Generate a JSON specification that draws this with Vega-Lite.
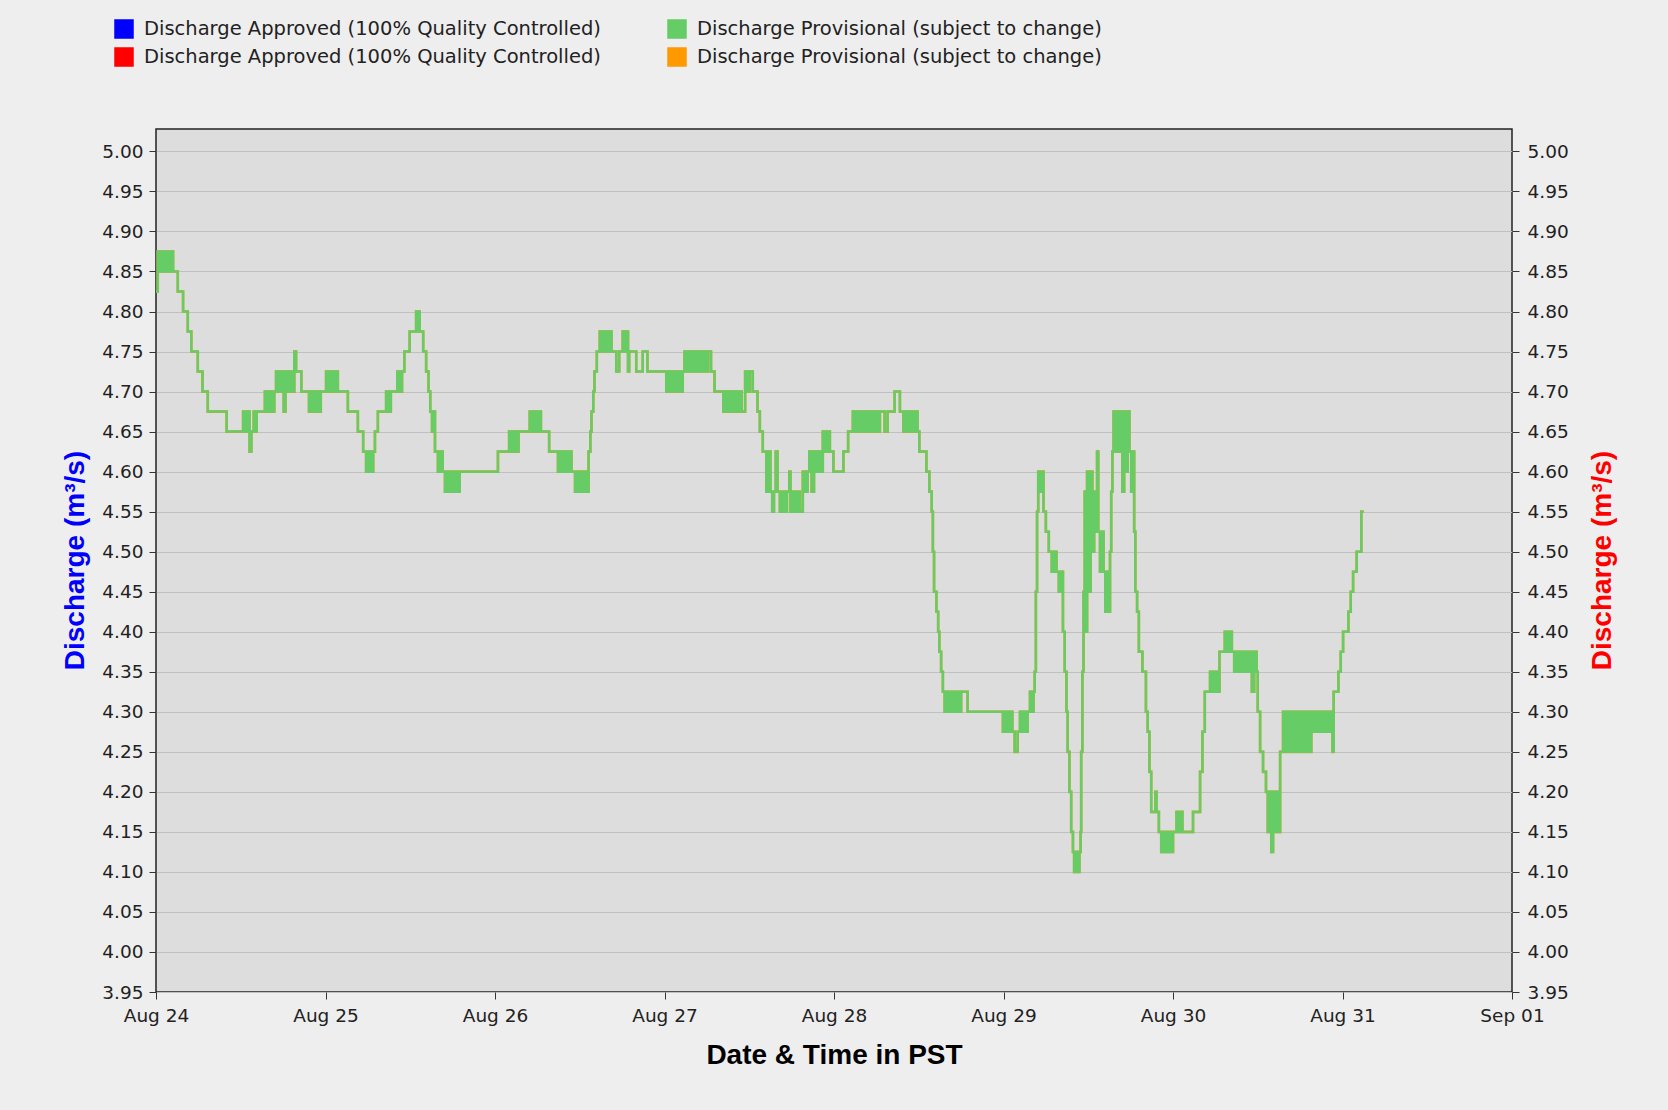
{
  "$schema": "https://vega.github.io/schema/vega-lite/v6.json",
  "width": 1356,
  "height": 863,
  "autosize": {"type": "none"},
  "padding": {"left": 156, "top": 129, "right": 156, "bottom": 118},
  "background": "#eeeeee",
  "config": {
    "view": {"fill": "#dddddd", "stroke": "#222222", "strokeWidth": 1.5},
    "axis": {"domain": false, "tickColor": "#333333", "tickWidth": 1, "labelFont": "DejaVu Sans", "labelFontSize": 18.5, "labelColor": "#222222"}
  },
  "data": {"values": [
{"t":"2023-08-24T00:00","v":4.825},{"t":"2023-08-24T00:15","v":4.875},{"t":"2023-08-24T00:35","v":4.85},{"t":"2023-08-24T00:55","v":4.875},{"t":"2023-08-24T01:15","v":4.85},{"t":"2023-08-24T01:35","v":4.875},{"t":"2023-08-24T01:55","v":4.85},{"t":"2023-08-24T02:10","v":4.875},{"t":"2023-08-24T02:25","v":4.85},{"t":"2023-08-24T03:05","v":4.825},{"t":"2023-08-24T03:50","v":4.80},{"t":"2023-08-24T04:30","v":4.775},{"t":"2023-08-24T05:00","v":4.75},{"t":"2023-08-24T05:55","v":4.725},{"t":"2023-08-24T06:35","v":4.70},{"t":"2023-08-24T07:20","v":4.675},{"t":"2023-08-24T10:00","v":4.65},{"t":"2023-08-24T12:20","v":4.675},{"t":"2023-08-24T12:40","v":4.65},{"t":"2023-08-24T13:00","v":4.675},{"t":"2023-08-24T13:15","v":4.625},{"t":"2023-08-24T13:30","v":4.65},{"t":"2023-08-24T13:50","v":4.675},{"t":"2023-08-24T14:00","v":4.65},{"t":"2023-08-24T14:15","v":4.675},{"t":"2023-08-24T15:25","v":4.70},{"t":"2023-08-24T15:45","v":4.675},{"t":"2023-08-24T16:05","v":4.70},{"t":"2023-08-24T16:25","v":4.675},{"t":"2023-08-24T16:45","v":4.70},{"t":"2023-08-24T17:00","v":4.725},{"t":"2023-08-24T17:20","v":4.70},{"t":"2023-08-24T17:40","v":4.725},{"t":"2023-08-24T18:00","v":4.70},{"t":"2023-08-24T18:05","v":4.675},{"t":"2023-08-24T18:20","v":4.725},{"t":"2023-08-24T18:40","v":4.70},{"t":"2023-08-24T19:00","v":4.725},{"t":"2023-08-24T19:20","v":4.70},{"t":"2023-08-24T19:35","v":4.75},{"t":"2023-08-24T19:50","v":4.725},{"t":"2023-08-24T20:35","v":4.70},{"t":"2023-08-24T21:40","v":4.675},{"t":"2023-08-24T22:00","v":4.70},{"t":"2023-08-24T22:20","v":4.675},{"t":"2023-08-24T22:40","v":4.70},{"t":"2023-08-24T23:00","v":4.675},{"t":"2023-08-24T23:20","v":4.70},
{"t":"2023-08-25T00:05","v":4.725},{"t":"2023-08-25T00:25","v":4.70},{"t":"2023-08-25T00:45","v":4.725},{"t":"2023-08-25T01:05","v":4.70},{"t":"2023-08-25T01:25","v":4.725},{"t":"2023-08-25T01:45","v":4.70},{"t":"2023-08-25T03:10","v":4.675},{"t":"2023-08-25T04:35","v":4.65},{"t":"2023-08-25T05:20","v":4.625},{"t":"2023-08-25T05:45","v":4.60},{"t":"2023-08-25T06:05","v":4.625},{"t":"2023-08-25T06:25","v":4.60},{"t":"2023-08-25T06:45","v":4.625},{"t":"2023-08-25T07:00","v":4.65},{"t":"2023-08-25T07:25","v":4.675},{"t":"2023-08-25T08:35","v":4.70},{"t":"2023-08-25T08:55","v":4.675},{"t":"2023-08-25T09:15","v":4.70},{"t":"2023-08-25T10:10","v":4.725},{"t":"2023-08-25T10:30","v":4.70},{"t":"2023-08-25T10:50","v":4.725},{"t":"2023-08-25T11:10","v":4.75},{"t":"2023-08-25T11:55","v":4.775},{"t":"2023-08-25T12:50","v":4.80},{"t":"2023-08-25T13:05","v":4.775},{"t":"2023-08-25T13:15","v":4.80},{"t":"2023-08-25T13:20","v":4.775},{"t":"2023-08-25T13:50","v":4.75},{"t":"2023-08-25T14:15","v":4.725},{"t":"2023-08-25T14:35","v":4.70},{"t":"2023-08-25T14:50","v":4.675},{"t":"2023-08-25T15:05","v":4.65},{"t":"2023-08-25T15:20","v":4.675},{"t":"2023-08-25T15:30","v":4.625},{"t":"2023-08-25T15:55","v":4.60},{"t":"2023-08-25T16:15","v":4.625},{"t":"2023-08-25T16:35","v":4.60},{"t":"2023-08-25T16:55","v":4.575},{"t":"2023-08-25T17:15","v":4.60},{"t":"2023-08-25T17:35","v":4.575},{"t":"2023-08-25T17:55","v":4.60},{"t":"2023-08-25T18:15","v":4.575},{"t":"2023-08-25T18:35","v":4.60},{"t":"2023-08-25T18:50","v":4.575},{"t":"2023-08-25T19:00","v":4.60},
{"t":"2023-08-26T00:25","v":4.625},{"t":"2023-08-26T02:00","v":4.65},{"t":"2023-08-26T02:20","v":4.625},{"t":"2023-08-26T02:40","v":4.65},{"t":"2023-08-26T03:00","v":4.625},{"t":"2023-08-26T03:20","v":4.65},{"t":"2023-08-26T04:55","v":4.675},{"t":"2023-08-26T05:15","v":4.65},{"t":"2023-08-26T05:35","v":4.675},{"t":"2023-08-26T05:55","v":4.65},{"t":"2023-08-26T06:15","v":4.675},{"t":"2023-08-26T06:30","v":4.65},{"t":"2023-08-26T07:40","v":4.625},{"t":"2023-08-26T08:55","v":4.60},{"t":"2023-08-26T09:15","v":4.625},{"t":"2023-08-26T09:35","v":4.60},{"t":"2023-08-26T09:55","v":4.625},{"t":"2023-08-26T10:15","v":4.60},{"t":"2023-08-26T10:35","v":4.625},{"t":"2023-08-26T10:50","v":4.60},{"t":"2023-08-26T11:20","v":4.575},{"t":"2023-08-26T11:40","v":4.60},{"t":"2023-08-26T12:00","v":4.575},{"t":"2023-08-26T12:20","v":4.60},{"t":"2023-08-26T12:40","v":4.575},{"t":"2023-08-26T13:00","v":4.60},{"t":"2023-08-26T13:10","v":4.575},{"t":"2023-08-26T13:15","v":4.625},{"t":"2023-08-26T13:30","v":4.65},{"t":"2023-08-26T13:40","v":4.675},{"t":"2023-08-26T13:55","v":4.70},{"t":"2023-08-26T14:05","v":4.725},{"t":"2023-08-26T14:25","v":4.75},{"t":"2023-08-26T14:50","v":4.775},{"t":"2023-08-26T15:10","v":4.75},{"t":"2023-08-26T15:30","v":4.775},{"t":"2023-08-26T15:50","v":4.75},{"t":"2023-08-26T16:10","v":4.775},{"t":"2023-08-26T16:30","v":4.75},{"t":"2023-08-26T17:10","v":4.725},{"t":"2023-08-26T17:35","v":4.75},{"t":"2023-08-26T18:05","v":4.775},{"t":"2023-08-26T18:25","v":4.75},{"t":"2023-08-26T18:35","v":4.775},{"t":"2023-08-26T18:50","v":4.725},{"t":"2023-08-26T19:00","v":4.75},{"t":"2023-08-26T20:00","v":4.725},{"t":"2023-08-26T20:55","v":4.75},{"t":"2023-08-26T21:35","v":4.725},
{"t":"2023-08-27T00:15","v":4.70},{"t":"2023-08-27T00:35","v":4.725},{"t":"2023-08-27T00:55","v":4.70},{"t":"2023-08-27T01:15","v":4.725},{"t":"2023-08-27T01:35","v":4.70},{"t":"2023-08-27T01:55","v":4.725},{"t":"2023-08-27T02:15","v":4.70},{"t":"2023-08-27T02:35","v":4.725},{"t":"2023-08-27T02:50","v":4.75},{"t":"2023-08-27T03:10","v":4.725},{"t":"2023-08-27T03:30","v":4.75},{"t":"2023-08-27T03:50","v":4.725},{"t":"2023-08-27T04:10","v":4.75},{"t":"2023-08-27T04:30","v":4.725},{"t":"2023-08-27T04:50","v":4.75},{"t":"2023-08-27T05:10","v":4.725},{"t":"2023-08-27T05:30","v":4.75},{"t":"2023-08-27T05:50","v":4.725},{"t":"2023-08-27T06:10","v":4.75},{"t":"2023-08-27T06:35","v":4.725},{"t":"2023-08-27T07:05","v":4.70},{"t":"2023-08-27T08:20","v":4.675},{"t":"2023-08-27T08:40","v":4.70},{"t":"2023-08-27T09:00","v":4.675},{"t":"2023-08-27T09:20","v":4.70},{"t":"2023-08-27T09:40","v":4.675},{"t":"2023-08-27T10:00","v":4.70},{"t":"2023-08-27T10:20","v":4.675},{"t":"2023-08-27T10:40","v":4.70},{"t":"2023-08-27T10:55","v":4.675},{"t":"2023-08-27T11:25","v":4.725},{"t":"2023-08-27T11:45","v":4.70},{"t":"2023-08-27T12:05","v":4.725},{"t":"2023-08-27T12:30","v":4.70},{"t":"2023-08-27T13:10","v":4.675},{"t":"2023-08-27T13:30","v":4.65},{"t":"2023-08-27T13:55","v":4.625},{"t":"2023-08-27T14:25","v":4.575},{"t":"2023-08-27T14:40","v":4.625},{"t":"2023-08-27T15:00","v":4.575},{"t":"2023-08-27T15:15","v":4.55},{"t":"2023-08-27T15:30","v":4.575},{"t":"2023-08-27T15:45","v":4.625},{"t":"2023-08-27T16:00","v":4.575},{"t":"2023-08-27T16:20","v":4.55},{"t":"2023-08-27T16:40","v":4.575},{"t":"2023-08-27T17:00","v":4.55},{"t":"2023-08-27T17:20","v":4.575},{"t":"2023-08-27T17:40","v":4.60},{"t":"2023-08-27T17:50","v":4.55},{"t":"2023-08-27T18:10","v":4.575},{"t":"2023-08-27T18:30","v":4.55},{"t":"2023-08-27T18:50","v":4.575},{"t":"2023-08-27T19:10","v":4.55},{"t":"2023-08-27T19:35","v":4.60},{"t":"2023-08-27T19:55","v":4.575},{"t":"2023-08-27T20:15","v":4.60},{"t":"2023-08-27T20:30","v":4.625},{"t":"2023-08-27T20:50","v":4.575},{"t":"2023-08-27T21:10","v":4.625},{"t":"2023-08-27T21:30","v":4.60},{"t":"2023-08-27T21:50","v":4.625},{"t":"2023-08-27T22:10","v":4.60},{"t":"2023-08-27T22:25","v":4.65},{"t":"2023-08-27T22:45","v":4.625},{"t":"2023-08-27T23:05","v":4.65},{"t":"2023-08-27T23:25","v":4.625},{"t":"2023-08-27T23:55","v":4.60},
{"t":"2023-08-28T01:20","v":4.625},{"t":"2023-08-28T02:00","v":4.65},{"t":"2023-08-28T02:40","v":4.675},{"t":"2023-08-28T03:00","v":4.65},{"t":"2023-08-28T03:20","v":4.675},{"t":"2023-08-28T03:40","v":4.65},{"t":"2023-08-28T04:00","v":4.675},{"t":"2023-08-28T04:20","v":4.65},{"t":"2023-08-28T04:40","v":4.675},{"t":"2023-08-28T05:00","v":4.65},{"t":"2023-08-28T05:20","v":4.675},{"t":"2023-08-28T05:40","v":4.65},{"t":"2023-08-28T06:00","v":4.675},{"t":"2023-08-28T06:20","v":4.65},{"t":"2023-08-28T06:30","v":4.675},{"t":"2023-08-28T07:10","v":4.65},{"t":"2023-08-28T07:35","v":4.675},{"t":"2023-08-28T08:35","v":4.70},{"t":"2023-08-28T09:20","v":4.675},{"t":"2023-08-28T09:50","v":4.65},{"t":"2023-08-28T10:10","v":4.675},{"t":"2023-08-28T10:30","v":4.65},{"t":"2023-08-28T10:50","v":4.675},{"t":"2023-08-28T11:10","v":4.65},{"t":"2023-08-28T11:30","v":4.675},{"t":"2023-08-28T11:50","v":4.65},{"t":"2023-08-28T12:05","v":4.625},{"t":"2023-08-28T13:05","v":4.60},{"t":"2023-08-28T13:30","v":4.575},{"t":"2023-08-28T13:50","v":4.55},{"t":"2023-08-28T14:00","v":4.50},{"t":"2023-08-28T14:10","v":4.45},{"t":"2023-08-28T14:30","v":4.425},{"t":"2023-08-28T14:45","v":4.40},{"t":"2023-08-28T14:55","v":4.375},{"t":"2023-08-28T15:10","v":4.35},{"t":"2023-08-28T15:25","v":4.325},{"t":"2023-08-28T15:40","v":4.30},{"t":"2023-08-28T16:00","v":4.325},{"t":"2023-08-28T16:20","v":4.30},{"t":"2023-08-28T16:40","v":4.325},{"t":"2023-08-28T17:00","v":4.30},{"t":"2023-08-28T17:20","v":4.325},{"t":"2023-08-28T17:40","v":4.30},{"t":"2023-08-28T18:00","v":4.325},{"t":"2023-08-28T18:55","v":4.30},{"t":"2023-08-28T23:55","v":4.275},
{"t":"2023-08-29T00:15","v":4.30},{"t":"2023-08-29T00:35","v":4.275},{"t":"2023-08-29T00:55","v":4.30},{"t":"2023-08-29T01:15","v":4.275},{"t":"2023-08-29T01:35","v":4.25},{"t":"2023-08-29T02:00","v":4.275},{"t":"2023-08-29T02:20","v":4.30},{"t":"2023-08-29T02:40","v":4.275},{"t":"2023-08-29T03:00","v":4.30},{"t":"2023-08-29T03:15","v":4.275},{"t":"2023-08-29T03:25","v":4.30},{"t":"2023-08-29T03:45","v":4.325},{"t":"2023-08-29T04:00","v":4.30},{"t":"2023-08-29T04:15","v":4.325},{"t":"2023-08-29T04:25","v":4.35},{"t":"2023-08-29T04:35","v":4.45},{"t":"2023-08-29T04:45","v":4.55},{"t":"2023-08-29T04:55","v":4.60},{"t":"2023-08-29T05:10","v":4.575},{"t":"2023-08-29T05:25","v":4.60},{"t":"2023-08-29T05:40","v":4.55},{"t":"2023-08-29T06:00","v":4.525},{"t":"2023-08-29T06:25","v":4.50},{"t":"2023-08-29T06:50","v":4.475},{"t":"2023-08-29T07:10","v":4.50},{"t":"2023-08-29T07:30","v":4.475},{"t":"2023-08-29T07:50","v":4.45},{"t":"2023-08-29T08:10","v":4.475},{"t":"2023-08-29T08:25","v":4.40},{"t":"2023-08-29T08:40","v":4.35},{"t":"2023-08-29T08:55","v":4.30},{"t":"2023-08-29T09:05","v":4.25},{"t":"2023-08-29T09:20","v":4.20},{"t":"2023-08-29T09:35","v":4.15},{"t":"2023-08-29T09:50","v":4.125},{"t":"2023-08-29T10:00","v":4.10},{"t":"2023-08-29T10:15","v":4.125},{"t":"2023-08-29T10:30","v":4.10},{"t":"2023-08-29T10:45","v":4.125},{"t":"2023-08-29T10:55","v":4.15},{"t":"2023-08-29T11:00","v":4.25},{"t":"2023-08-29T11:10","v":4.35},{"t":"2023-08-29T11:20","v":4.45},{"t":"2023-08-29T11:30","v":4.575},{"t":"2023-08-29T11:40","v":4.40},{"t":"2023-08-29T11:50","v":4.60},{"t":"2023-08-29T12:05","v":4.45},{"t":"2023-08-29T12:20","v":4.60},{"t":"2023-08-29T12:35","v":4.50},{"t":"2023-08-29T12:50","v":4.575},{"t":"2023-08-29T13:05","v":4.525},{"t":"2023-08-29T13:15","v":4.625},{"t":"2023-08-29T13:25","v":4.525},{"t":"2023-08-29T13:40","v":4.475},{"t":"2023-08-29T13:55","v":4.525},{"t":"2023-08-29T14:10","v":4.475},{"t":"2023-08-29T14:25","v":4.425},{"t":"2023-08-29T14:40","v":4.475},{"t":"2023-08-29T14:55","v":4.425},{"t":"2023-08-29T15:05","v":4.50},{"t":"2023-08-29T15:15","v":4.575},{"t":"2023-08-29T15:25","v":4.625},{"t":"2023-08-29T15:35","v":4.675},{"t":"2023-08-29T15:50","v":4.625},{"t":"2023-08-29T16:05","v":4.675},{"t":"2023-08-29T16:20","v":4.625},{"t":"2023-08-29T16:35","v":4.675},{"t":"2023-08-29T16:50","v":4.575},{"t":"2023-08-29T17:05","v":4.675},{"t":"2023-08-29T17:20","v":4.60},{"t":"2023-08-29T17:35","v":4.675},{"t":"2023-08-29T17:50","v":4.625},{"t":"2023-08-29T18:05","v":4.575},{"t":"2023-08-29T18:20","v":4.625},{"t":"2023-08-29T18:30","v":4.525},{"t":"2023-08-29T18:40","v":4.45},{"t":"2023-08-29T18:55","v":4.425},{"t":"2023-08-29T19:10","v":4.375},{"t":"2023-08-29T19:40","v":4.35},{"t":"2023-08-29T20:10","v":4.30},{"t":"2023-08-29T20:25","v":4.275},{"t":"2023-08-29T20:40","v":4.225},{"t":"2023-08-29T20:55","v":4.175},{"t":"2023-08-29T21:30","v":4.20},{"t":"2023-08-29T21:40","v":4.175},{"t":"2023-08-29T22:00","v":4.15},{"t":"2023-08-29T22:20","v":4.125},{"t":"2023-08-29T22:40","v":4.15},{"t":"2023-08-29T23:00","v":4.125},{"t":"2023-08-29T23:20","v":4.15},{"t":"2023-08-29T23:40","v":4.125},
{"t":"2023-08-30T00:00","v":4.15},{"t":"2023-08-30T00:30","v":4.175},{"t":"2023-08-30T00:45","v":4.15},{"t":"2023-08-30T01:05","v":4.175},{"t":"2023-08-30T01:20","v":4.15},{"t":"2023-08-30T02:50","v":4.175},{"t":"2023-08-30T03:50","v":4.225},{"t":"2023-08-30T04:10","v":4.275},{"t":"2023-08-30T04:30","v":4.325},{"t":"2023-08-30T05:15","v":4.35},{"t":"2023-08-30T05:35","v":4.325},{"t":"2023-08-30T05:55","v":4.35},{"t":"2023-08-30T06:15","v":4.325},{"t":"2023-08-30T06:35","v":4.375},{"t":"2023-08-30T07:20","v":4.40},{"t":"2023-08-30T07:40","v":4.375},{"t":"2023-08-30T08:00","v":4.40},{"t":"2023-08-30T08:20","v":4.375},{"t":"2023-08-30T08:40","v":4.35},{"t":"2023-08-30T09:00","v":4.375},{"t":"2023-08-30T09:20","v":4.35},{"t":"2023-08-30T09:40","v":4.375},{"t":"2023-08-30T10:00","v":4.35},{"t":"2023-08-30T10:20","v":4.375},{"t":"2023-08-30T10:40","v":4.35},{"t":"2023-08-30T10:50","v":4.375},{"t":"2023-08-30T11:10","v":4.325},{"t":"2023-08-30T11:30","v":4.375},{"t":"2023-08-30T11:50","v":4.35},{"t":"2023-08-30T12:00","v":4.30},{"t":"2023-08-30T12:20","v":4.25},{"t":"2023-08-30T12:45","v":4.225},{"t":"2023-08-30T13:10","v":4.20},{"t":"2023-08-30T13:25","v":4.15},{"t":"2023-08-30T13:40","v":4.20},{"t":"2023-08-30T13:55","v":4.125},{"t":"2023-08-30T14:10","v":4.20},{"t":"2023-08-30T14:25","v":4.15},{"t":"2023-08-30T14:45","v":4.20},{"t":"2023-08-30T15:00","v":4.15},{"t":"2023-08-30T15:10","v":4.25},{"t":"2023-08-30T15:35","v":4.30},{"t":"2023-08-30T15:55","v":4.25},{"t":"2023-08-30T16:15","v":4.30},{"t":"2023-08-30T16:35","v":4.25},{"t":"2023-08-30T16:55","v":4.30},{"t":"2023-08-30T17:15","v":4.25},{"t":"2023-08-30T17:35","v":4.30},{"t":"2023-08-30T17:55","v":4.25},{"t":"2023-08-30T18:15","v":4.30},{"t":"2023-08-30T18:35","v":4.25},{"t":"2023-08-30T18:55","v":4.30},{"t":"2023-08-30T19:15","v":4.25},{"t":"2023-08-30T19:35","v":4.30},{"t":"2023-08-30T19:55","v":4.275},{"t":"2023-08-30T20:15","v":4.30},{"t":"2023-08-30T20:35","v":4.275},{"t":"2023-08-30T20:55","v":4.30},{"t":"2023-08-30T21:15","v":4.275},{"t":"2023-08-30T21:35","v":4.30},{"t":"2023-08-30T21:55","v":4.275},{"t":"2023-08-30T22:15","v":4.30},{"t":"2023-08-30T22:35","v":4.25},{"t":"2023-08-30T22:45","v":4.325},{"t":"2023-08-30T23:25","v":4.35},{"t":"2023-08-30T23:45","v":4.375},
{"t":"2023-08-31T00:05","v":4.40},{"t":"2023-08-31T00:50","v":4.425},{"t":"2023-08-31T01:10","v":4.45},{"t":"2023-08-31T01:30","v":4.475},{"t":"2023-08-31T02:00","v":4.50},{"t":"2023-08-31T02:40","v":4.55},{"t":"2023-08-31T03:00","v":4.55}
  ]},
  "encoding": {
    "x": {
      "field": "t", "type": "temporal",
      "scale": {"domain": [{"year": 2023, "month": "aug", "date": 24}, {"year": 2023, "month": "sep", "date": 1}], "nice": false},
      "axis": {
        "format": "%b %d", "tickCount": {"interval": "day", "step": 1},
        "labelFlush": false, "labelOverlap": false, "labelBound": false,
        "tickSize": 7, "labelPadding": 7, "grid": false,
        "title": "Date & Time in PST", "titleFont": "Liberation Sans", "titleFontWeight": "bold", "titleFontSize": 28, "titleColor": "#000000",
        "titleX": 678, "titleY": 71, "titleBaseline": "alphabetic", "titleAlign": "center"
      }
    }
  },
  "layer": [
    {
      "mark": {"type": "line", "interpolate": "step-after", "strokeWidth": 2.6},
      "encoding": {
        "y": {
          "field": "v", "type": "quantitative",
          "scale": {"domain": [3.95, 5.028], "nice": false, "zero": false},
          "axis": {
            "orient": "right",
            "values": [3.95,4.0,4.05,4.1,4.15,4.2,4.25,4.3,4.35,4.4,4.45,4.5,4.55,4.6,4.65,4.7,4.75,4.8,4.85,4.9,4.95,5.0],
            "format": ".2f", "grid": false, "tickSize": 7, "labelPadding": 8, "labelOverlap": false,
            "title": "Discharge (m³/s)", "titleColor": "#ff0000", "titleFont": "Liberation Sans", "titleFontWeight": "bold", "titleFontSize": 28,
            "titleAngle": -90, "titleX": 98, "titleY": 431, "titleAlign": "center", "titleBaseline": "alphabetic"
          }
        },
        "color": {
          "datum": "p2", "type": "nominal",
          "scale": {"domain": ["a1", "p1", "a2", "p2"], "range": ["#0000ff", "#66cc66", "#ff0000", "#ff9900"]},
          "legend": {
            "orient": "none", "legendX": -42, "legendY": -110, "columns": 2, "direction": "horizontal",
            "title": null, "padding": 0, "symbolType": "square", "symbolSize": 324,
            "symbolStrokeColor": "#444444", "symbolStrokeWidth": 1.5,
            "labelFont": "DejaVu Sans", "labelFontSize": 19.5, "labelColor": "#222222", "labelOffset": 10, "labelLimit": 0,
            "columnPadding": 64, "rowPadding": 4,
            "labelExpr": "datum.value == 'a1' || datum.value == 'a2' ? 'Discharge Approved (100% Quality Controlled)' : 'Discharge Provisional (subject to change)'",
            "encode": {"symbols": {"update": {"fill": {"scale": "color", "field": "value"}, "stroke": {"value": "#444444"}, "strokeWidth": {"value": 1.5}, "opacity": {"value": 1}, "fillOpacity": {"value": 1}, "strokeOpacity": {"value": 1}}}}
          }
        }
      }
    },
    {
      "mark": {"type": "line", "interpolate": "step-after", "strokeWidth": 2.5},
      "encoding": {
        "y": {
          "field": "v", "type": "quantitative",
          "scale": {"domain": [3.95, 5.028], "nice": false, "zero": false},
          "axis": {
            "orient": "left",
            "values": [3.95,4.0,4.05,4.1,4.15,4.2,4.25,4.3,4.35,4.4,4.45,4.5,4.55,4.6,4.65,4.7,4.75,4.8,4.85,4.9,4.95,5.0],
            "format": ".2f", "grid": true, "gridColor": "#c0c0c0", "gridWidth": 1.2, "tickSize": 7, "labelPadding": 6, "labelOverlap": false,
            "title": "Discharge (m³/s)", "titleColor": "#0000ff", "titleFont": "Liberation Sans", "titleFontWeight": "bold", "titleFontSize": 28,
            "titleAngle": -90, "titleX": -73, "titleY": 431, "titleAlign": "center", "titleBaseline": "alphabetic"
          }
        },
        "color": {"datum": "p1", "type": "nominal"}
      }
    }
  ],
  "resolve": {"scale": {"y": "independent"}}
}
